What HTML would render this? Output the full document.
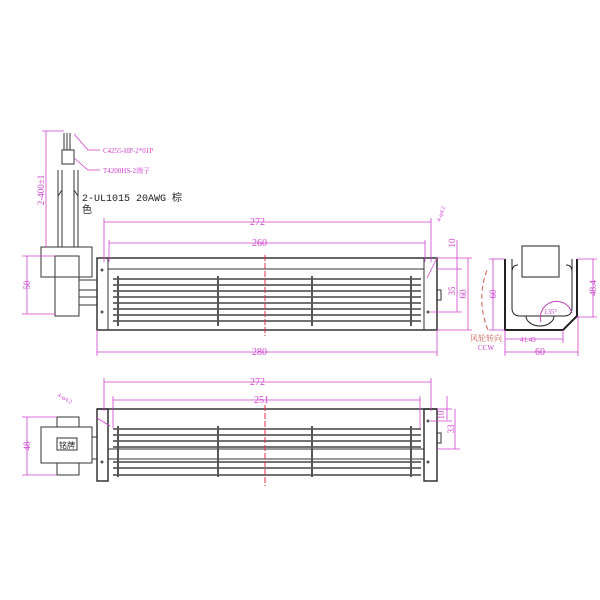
<!DOCTYPE html>
<html><head><meta charset="utf-8"><style>body{margin:0;background:#fff}svg{display:block}</style></head><body>
<svg width="600" height="600" viewBox="0 0 600 600" xmlns="http://www.w3.org/2000/svg" font-family="Liberation Serif, Noto Serif CJK SC, serif">
<rect width="600" height="600" fill="#fff"/>
<g fill="none" stroke="#333" stroke-width="1">
<!-- wires -->
<line x1="58" y1="170" x2="58" y2="247"/><line x1="62" y1="170" x2="62" y2="247"/>
<line x1="74" y1="170" x2="74" y2="247"/><line x1="78" y1="170" x2="78" y2="247"/>
<rect x="62" y="150" width="12" height="14"/>
<line x1="64" y1="133" x2="64" y2="150"/><line x1="67" y1="133" x2="67" y2="150"/><line x1="70" y1="133" x2="70" y2="150"/>
<line x1="58" y1="196" x2="62" y2="190"/><line x1="78" y1="196" x2="74" y2="190"/>
<!-- top view motor -->
<rect x="41" y="247" width="51" height="30"/>
<rect x="55" y="256" width="24" height="60"/>
<rect x="79" y="280" width="18" height="25"/>
<line x1="79" y1="290" x2="97" y2="290"/><line x1="79" y1="297" x2="97" y2="297"/>
<!-- top view housing -->
<rect x="97" y="258" width="340" height="72" stroke-width="1.5"/>
<line x1="108" y1="258" x2="108" y2="330"/><line x1="424" y1="258" x2="424" y2="330"/>
<line x1="108" y1="269" x2="424" y2="269"/>
<rect x="437" y="290" width="4" height="10"/>
</g>
<g stroke="#444" stroke-width="1.6">
<line x1="113" y1="279" x2="421" y2="279"/><line x1="113" y1="285" x2="421" y2="285"/>
<line x1="113" y1="291" x2="421" y2="291"/><line x1="113" y1="297" x2="421" y2="297"/>
<line x1="113" y1="303" x2="421" y2="303"/><line x1="113" y1="309" x2="421" y2="309"/>
<line x1="113" y1="315" x2="421" y2="315"/><line x1="113" y1="321" x2="421" y2="321"/>
</g>
<g stroke="#555" stroke-width="2"><line x1="118" y1="276" x2="118" y2="326"/><line x1="218" y1="276" x2="218" y2="326"/><line x1="312" y1="276" x2="312" y2="326"/><line x1="411" y1="276" x2="411" y2="326"/></g>
<g fill="#555"><circle cx="102" cy="270" r="1.5"/><circle cx="102" cy="312" r="1.5"/><circle cx="428" cy="312" r="1.5"/></g>
<line x1="265" y1="255" x2="265" y2="336" stroke="#e03040" stroke-dasharray="6,2"/>
<!-- side view -->
<g fill="none" stroke="#222" stroke-width="1">
<path d="M505 259 L505 330 L563 330 L577 316 L577 259" stroke-width="2"/>
<path d="M512 259 L512 308 Q512 316 520 316 L564 316 Q572 316 572 308 L572 259"/>
<path d="M518 265 Q512 265 512 272 M566 265 Q572 265 572 272"/>
<rect x="522" y="246" width="37" height="31" fill="#fff"/>
<path d="M526 316 A14 10 0 0 0 554 316"/>
<path d="M541 322 A16 16 0 0 1 572 313" stroke="#c040c0"/>
</g>
<!-- bottom view -->
<g fill="none" stroke="#333" stroke-width="1">
<rect x="41" y="427" width="51" height="36"/>
<rect x="57" y="417" width="22" height="10"/><rect x="57" y="463" width="22" height="12"/>
<rect x="57" y="438" width="20" height="12"/>
<rect x="92" y="437" width="5" height="22"/>
<line x1="97" y1="409" x2="437" y2="409" stroke-width="1.5"/>
<rect x="97" y="409" width="11" height="72" stroke-width="1.5"/>
<rect x="424" y="409" width="13" height="72" stroke-width="1.5"/>
<line x1="108" y1="449" x2="424" y2="449"/><line x1="108" y1="459" x2="424" y2="459"/>
<rect x="437" y="433" width="4" height="10"/>
</g>
<g stroke="#444" stroke-width="1.6">
<line x1="113" y1="429" x2="421" y2="429"/><line x1="113" y1="435" x2="421" y2="435"/>
<line x1="113" y1="441" x2="421" y2="441"/><line x1="113" y1="447" x2="421" y2="447"/>
<line x1="113" y1="462" x2="421" y2="462"/><line x1="113" y1="468" x2="421" y2="468"/><line x1="113" y1="475" x2="421" y2="475"/>
</g>
<g stroke="#555" stroke-width="2"><line x1="118" y1="426" x2="118" y2="477"/><line x1="218" y1="426" x2="218" y2="477"/><line x1="312" y1="426" x2="312" y2="477"/><line x1="411" y1="426" x2="411" y2="477"/></g>
<g fill="#555"><circle cx="102" cy="462" r="1.5"/><circle cx="428" cy="421" r="1.5"/><circle cx="428" cy="462" r="1.5"/></g>
<line x1="265" y1="405" x2="265" y2="486" stroke="#e03040" stroke-dasharray="6,2"/>
<!-- dimensions magenta -->
<g stroke="#d040d0" stroke-width="0.8" fill="none">
<line x1="46" y1="131" x2="46" y2="247"/><line x1="42" y1="131" x2="64" y2="131"/>
<line x1="27" y1="256" x2="27" y2="314"/><line x1="22" y1="256" x2="55" y2="256"/><line x1="22" y1="314" x2="55" y2="314"/>
<line x1="104" y1="222" x2="431" y2="222"/><line x1="104" y1="218" x2="104" y2="262"/><line x1="431" y1="218" x2="431" y2="262"/>
<line x1="109" y1="243" x2="425" y2="243"/><line x1="109" y1="240" x2="109" y2="262"/><line x1="425" y1="240" x2="425" y2="262"/>
<line x1="97" y1="352" x2="437" y2="352"/><line x1="97" y1="330" x2="97" y2="356"/><line x1="437" y1="330" x2="437" y2="356"/>
<line x1="457" y1="240" x2="457" y2="312"/><line x1="437" y1="269" x2="462" y2="269"/><line x1="430" y1="312" x2="462" y2="312"/>
<line x1="468" y1="258" x2="468" y2="330"/><line x1="437" y1="258" x2="472" y2="258"/><line x1="437" y1="330" x2="472" y2="330"/>
<line x1="427" y1="278" x2="437" y2="258"/>
<line x1="493" y1="259" x2="493" y2="330"/><line x1="489" y1="259" x2="505" y2="259"/><line x1="489" y1="330" x2="505" y2="330"/>
<line x1="593" y1="259" x2="593" y2="317"/><line x1="577" y1="259" x2="597" y2="259"/><line x1="577" y1="317" x2="597" y2="317"/>
<line x1="505" y1="339" x2="563" y2="339"/><line x1="563" y1="330" x2="563" y2="343"/>
<line x1="505" y1="352" x2="578" y2="352"/><line x1="505" y1="330" x2="505" y2="356"/><line x1="578" y1="316" x2="578" y2="356"/>
<line x1="104" y1="382" x2="431" y2="382"/><line x1="104" y1="378" x2="104" y2="411"/><line x1="431" y1="378" x2="431" y2="411"/>
<line x1="113" y1="400" x2="420" y2="400"/><line x1="113" y1="396" x2="113" y2="428"/><line x1="420" y1="396" x2="420" y2="428"/>
<line x1="27" y1="417" x2="27" y2="475"/><line x1="22" y1="417" x2="57" y2="417"/><line x1="22" y1="475" x2="57" y2="475"/>
<line x1="447" y1="396" x2="447" y2="420"/><line x1="437" y1="409" x2="452" y2="409"/><line x1="430" y1="421" x2="452" y2="421"/>
<line x1="455" y1="409" x2="455" y2="449"/><line x1="437" y1="449" x2="460" y2="449"/>
<line x1="97" y1="418" x2="110" y2="426"/>
<path d="M74 134 L88 150 L100 150 M74 158 L88 170 L100 170"/>
</g>
<path d="M488 330 Q476 300 487 270" stroke="#d06050" fill="none" stroke-dasharray="5,3"/>
<g fill="#d040d0" font-size="9">
<text x="103" y="153" font-size="7">C4255-HP-2*01P</text>
<text x="103" y="173" font-size="7">T4200HS-2端子</text>
<text x="250" y="225" font-size="10">272</text>
<text x="252" y="246" font-size="10">260</text>
<text x="252" y="355" font-size="10">280</text>
<text x="250" y="385" font-size="10">272</text>
<text x="254" y="403" font-size="10">251</text>
<text x="520" y="342" font-size="7">41.43</text>
<text x="535" y="355" font-size="10">60</text>
<text x="544" y="314" font-size="7">135°</text>
<text transform="translate(44,190) rotate(-90)" text-anchor="middle">2-400±1</text>
<text transform="translate(30,285) rotate(-90)" text-anchor="middle">50</text>
<text transform="translate(30,446) rotate(-90)" text-anchor="middle">48</text>
<text transform="translate(455,243) rotate(-90)" text-anchor="middle">10</text>
<text transform="translate(455,291) rotate(-90)" text-anchor="middle">35</text>
<text transform="translate(466,294) rotate(-90)" text-anchor="middle">60</text>
<text transform="translate(496,294) rotate(-90)" text-anchor="middle">60</text>
<text transform="translate(596,288) rotate(-90)" text-anchor="middle">48.4</text>
<text transform="translate(444,415) rotate(-90)" text-anchor="middle">10</text>
<text transform="translate(454,429) rotate(-90)" text-anchor="middle">33</text>
<text transform="translate(440,222) rotate(-70)" font-size="6">4-φ4.2</text>
<text transform="translate(57,396) rotate(30)" font-size="6">4-φ4.2</text>
</g>
<text x="82" y="201" font-size="10" fill="#222" font-family="Liberation Mono, Noto Sans CJK SC, monospace">2-UL1015 20AWG 棕</text>
<text x="82" y="213" font-size="10" fill="#222" font-family="Liberation Mono, Noto Sans CJK SC, monospace">色</text>
<text x="59" y="448" font-size="8" fill="#222" font-family="Noto Sans CJK SC, sans-serif">铭牌</text>
<text x="470" y="341" font-size="8" fill="#d06050" font-family="Noto Serif CJK SC, serif">风轮转向</text>
<text x="478" y="350" font-size="7" fill="#d040d0">CCW</text>
</svg>
</body></html>
